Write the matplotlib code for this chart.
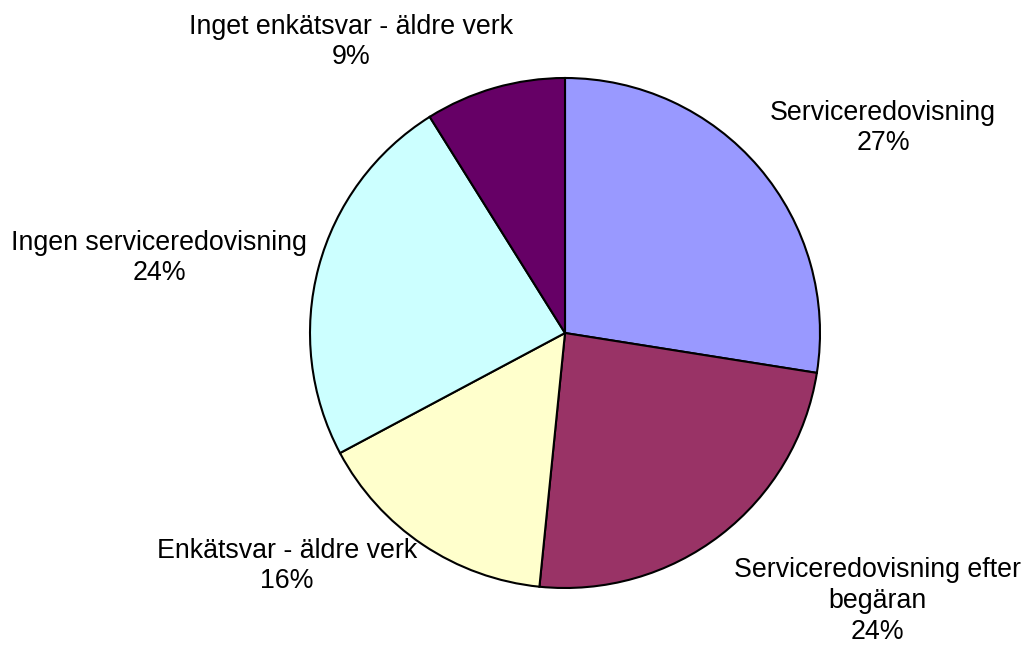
import matplotlib.pyplot as plt

plt.rcParams["font.family"] = ["Liberation Sans", "DejaVu Sans"]

# Slice data, clockwise from 12 o'clock
categories = [
    "Serviceredovisning",
    "Serviceredovisning efter\nbegäran",
    "Enkätsvar - äldre verk",
    "Ingen serviceredovisning",
    "Inget enkätsvar - äldre verk",
]
shares = [27.5, 24.1, 15.6, 23.9, 8.9]
pct_labels = ["27%", "24%", "16%", "24%", "9%"]
colors = ["#9999FF", "#993366", "#FFFFCC", "#CCFFFF", "#660066"]

# Label anchor points in pixel space (x, y from top)
label_pos = [(883, 128), (877, 601), (287, 566), (159, 258), (351, 42)]

W, H = 1026, 646
fig = plt.figure(figsize=(W / 100, H / 100), dpi=100)
ax = fig.add_axes([0, 0, 1, 1])

ax.pie(
    shares,
    colors=colors,
    startangle=90,
    counterclock=False,
    center=(565, H - 333),
    radius=255,
    frame=True,
    wedgeprops=dict(edgecolor="black", linewidth=1.5),
)
ax.set_xlim(0, W)
ax.set_ylim(0, H)
ax.axis("off")

for cat, pct, (x, y) in zip(categories, pct_labels, label_pos):
    ax.text(x, H - y, f"{cat}\n{pct}", ha="center", va="center",
            fontsize=19.3, linespacing=1.25, color="black")

fig.savefig("out.png", dpi=100)
